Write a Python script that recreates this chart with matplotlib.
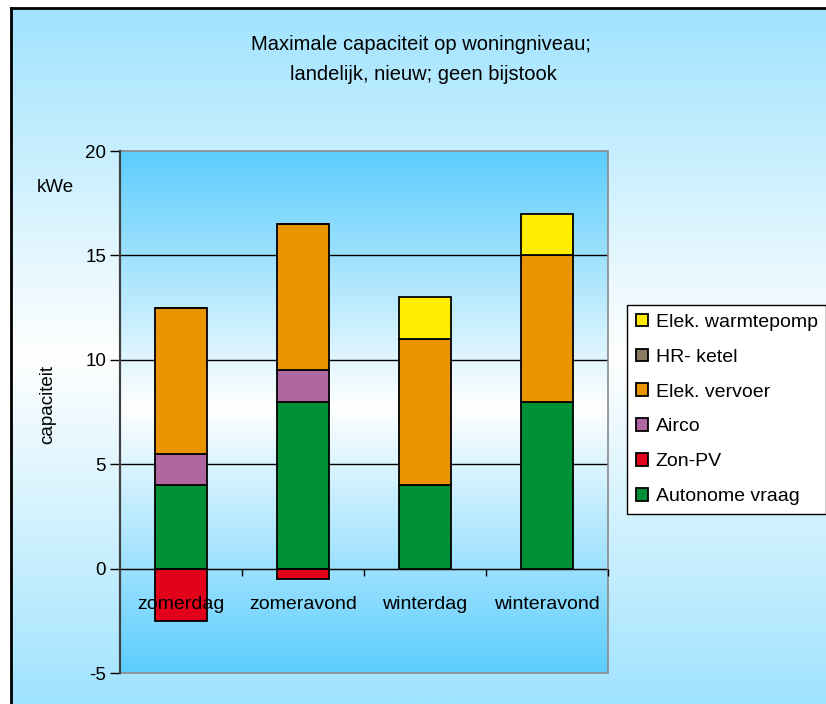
import numpy as np
import matplotlib
matplotlib.use("Agg")
import matplotlib.pyplot as plt
from matplotlib.colors import LinearSegmentedColormap
from matplotlib.patches import Rectangle
from matplotlib.lines import Line2D

categories = ["zomerdag", "zomeravond", "winterdag", "winteravond"]
series_names = ["Autonome vraag", "Zon-PV", "Airco", "Elek. vervoer", "HR- ketel", "Elek. warmtepomp"]
autonome = [4.0, 8.0, 4.0, 8.0]
zonpv = [-2.5, -0.5, 0.0, 0.0]
airco = [1.5, 1.5, 0.0, 0.0]
vervoer = [7.0, 7.0, 7.0, 7.0]
hrketel = [0.0, 0.0, 0.0, 0.0]
warmtepomp = [0.0, 0.0, 2.0, 2.0]
colors = ["#009035", "#e2001a", "#b066a0", "#ea9400", "#8b7b64", "#ffee00"]
yticks = [-5, 0, 5, 10, 15, 20]

W, H = 826, 704
fig = plt.figure(figsize=(W/100, H/100), dpi=100)
fig.patch.set_facecolor("white")

# figure background gradient
bg = fig.add_axes([11/W, 0, 1-11/W, 1-8/H], zorder=-10)
bg.set_axis_off()
cm_fig = LinearSegmentedColormap.from_list("fb", ["#a0e3fe", "#ffffff", "#a0e3fe"])
grad = np.linspace(0, 1, 256).reshape(-1, 1)
bg.imshow(grad, aspect="auto", cmap=cm_fig, extent=[0, 1, 0, 1], origin="upper")
bg.set_xlim(0, 1); bg.set_ylim(0, 1)
fig.add_artist(Line2D([11/W, 1], [1-8/H, 1-8/H], color="black", lw=2))
fig.add_artist(Line2D([11/W, 11/W], [0, 1-8/H], color="black", lw=2))

left, right, top, bottom = 120, 608, 151, 673
ax = fig.add_axes([left/W, 1-bottom/H, (right-left)/W, (bottom-top)/H])
ax.set_facecolor("none")
cm_ax = LinearSegmentedColormap.from_list("ab", [(0, "#5ccdfd"), (0.49, "#ffffff"), (1, "#5ccdfd")])
ax.imshow(grad, aspect="auto", cmap=cm_ax, extent=[-0.5, 3.5, -5, 20], origin="upper", zorder=0)

x = np.arange(len(categories))
data = [autonome, zonpv, airco, vervoer, hrketel, warmtepomp]
pos_bottom = np.zeros(len(categories))
neg_bottom = np.zeros(len(categories))
handles = []
for vals, name, c in zip(data, series_names, colors):
    vals = np.array(vals)
    b = np.where(vals >= 0, pos_bottom, neg_bottom)
    bars = ax.bar(x, vals, width=0.43, bottom=b, color=c, edgecolor="black", linewidth=1.3, zorder=3, label=name)
    handles.append(bars)
    pos_bottom = pos_bottom + np.where(vals > 0, vals, 0)
    neg_bottom = neg_bottom + np.where(vals < 0, vals, 0)

ax.set_xlim(-0.5, 3.5)
ax.set_ylim(-5, 20)
ax.set_yticks(yticks)
ax.set_yticklabels([str(v) for v in yticks], fontsize=13.5, family="Liberation Sans")
ax.tick_params(axis="y", direction="out", length=7, width=1, pad=3)
for v in yticks[1:-1]:
    ax.axhline(v, color="black", lw=1, zorder=1)

ax.xaxis.set_zorder(6)
ax.spines["bottom"].set_position(("data", 0))
ax.spines["bottom"].set_color("black")
ax.spines["bottom"].set_zorder(4)
ax.spines["left"].set_color("#404040")
ax.spines["left"].set_linewidth(1.5)
ax.spines["top"].set_visible(False)
ax.spines["right"].set_visible(False)
ax.set_xticks([0.5, 1.5, 2.5, 3.5])
ax.set_xticklabels([])
ax.tick_params(axis="x", which="major", direction="out", length=5, width=1)
ax.set_xticks(x, minor=True)
ax.set_xticklabels(categories, minor=True, fontsize=14, family="Liberation Sans")
ax.tick_params(axis="x", which="minor", length=0, pad=20)

ax.add_patch(Rectangle((0, 0), 1, 1, transform=ax.transAxes, fill=False,
                       edgecolor="#8a8a8a", lw=1.2, zorder=5, clip_on=False))
ax.plot([0, 0], [0, 1], transform=ax.transAxes, color="#404040", lw=1.5, zorder=6, clip_on=False)

fig.text(48/W, 1-405/H, "capaciteit", rotation=90, ha="center", va="center",
         fontsize=13.5, family="Liberation Sans")
fig.text(55/W, 1-187/H, "kWe", ha="center", va="center", fontsize=13.5, family="Liberation Sans")

fig.text(421/W, 1-45/H, "Maximale capaciteit op woningniveau;", ha="center", va="center",
         fontsize=14.5, family="Liberation Sans")
fig.text(423/W, 1-75/H, "landelijk, nieuw; geen bijstook", ha="center", va="center",
         fontsize=14.5, family="Liberation Sans")

leg = fig.legend(handles[::-1], series_names[::-1], loc="upper left",
                 bbox_to_anchor=(627/W, 1-305/H), bbox_transform=fig.transFigure,
                 borderaxespad=0, frameon=True, fancybox=False, edgecolor="black",
                 facecolor="white", framealpha=1, handlelength=0.62, handleheight=0.62,
                 handletextpad=0.4, labelspacing=0.91, borderpad=0.45,
                 prop={"family": "Liberation Sans", "size": 14})
leg.get_frame().set_linewidth(1)

fig.savefig("out.png", dpi=100)
